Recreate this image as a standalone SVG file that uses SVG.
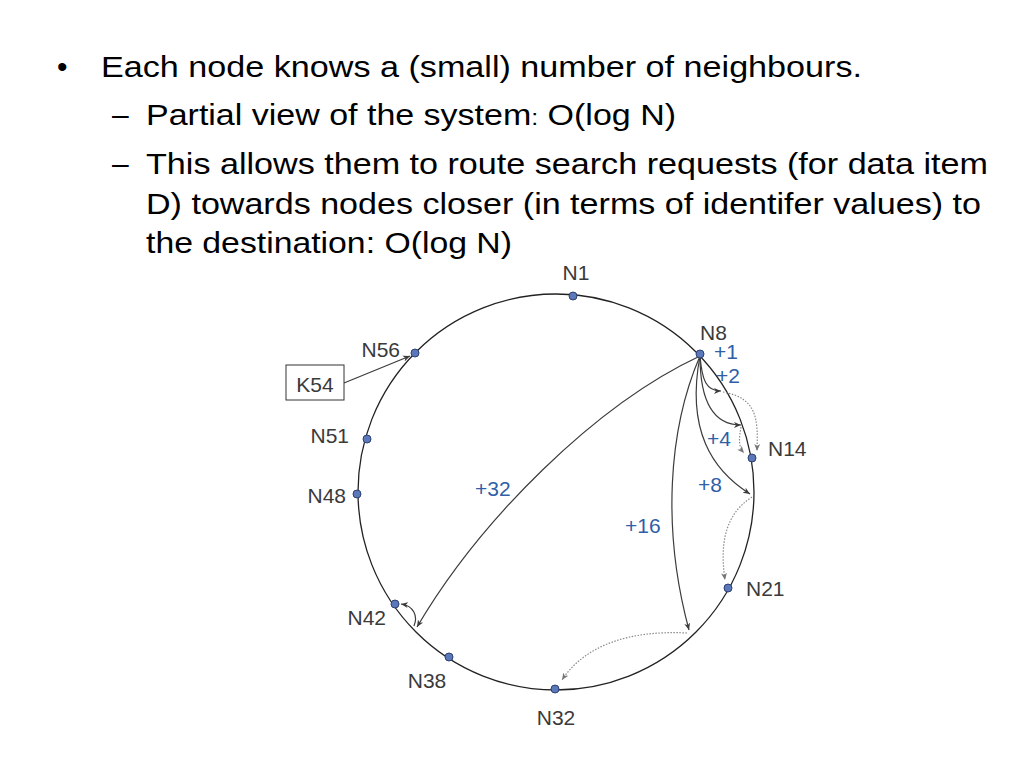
<svg xmlns="http://www.w3.org/2000/svg" width="1024" height="768" viewBox="0 0 1024 768">
<defs>
<style>
.body{font-family:"Liberation Sans",Arial,sans-serif;font-size:30px;fill:#000}
.lbl{font-family:"Liberation Sans",Arial,sans-serif;font-size:21px;fill:#3a3a3a}
.blue{font-family:"Liberation Sans",Arial,sans-serif;font-size:21px;fill:#2f5fa6}
.node{fill:#5b79b9;stroke:#2d3f73;stroke-width:1}
.solid{fill:none;stroke:#3c3c3c;stroke-width:1.2;marker-end:url(#ah)}
.dot{fill:none;stroke:#8a8a8a;stroke-width:1.2;stroke-dasharray:1.5 1.5;marker-end:url(#ahg)}
</style>
<marker id="ah" markerWidth="8" markerHeight="8" refX="7" refY="4" orient="auto" markerUnits="userSpaceOnUse">
<path d="M0,1 L7,4 L0,7 L2,4 Z" fill="#3c3c3c"/>
</marker>
<marker id="ahg" markerWidth="8" markerHeight="8" refX="7" refY="4" orient="auto" markerUnits="userSpaceOnUse">
<path d="M0,1 L7,4 L0,7 L2,4 Z" fill="#777"/>
</marker>
</defs>
<rect width="1024" height="768" fill="#fff"/>
<g id="text">
<text class="body" x="57" y="77">•</text>
<text class="body" x="101" y="77" textLength="761" lengthAdjust="spacingAndGlyphs">Each node knows a (small) number of neighbours.</text>
<text class="body" x="112" y="125">–</text>
<text class="body" x="146" y="125" textLength="530" lengthAdjust="spacingAndGlyphs">Partial view of the system<tspan font-size="22">:</tspan> O(log N)</text>
<text class="body" x="112" y="174">–</text>
<text class="body" x="146" y="174" textLength="842" lengthAdjust="spacingAndGlyphs">This allows them to route search requests (for data item</text>
<text class="body" x="146" y="214" textLength="835" lengthAdjust="spacingAndGlyphs">D) towards nodes closer (in terms of identifer values) to</text>
<text class="body" x="146" y="253" textLength="366" lengthAdjust="spacingAndGlyphs">the destination: O(log N)</text>
</g>
<g id="ring">
<circle cx="556" cy="492" r="198" fill="none" stroke="#222" stroke-width="1.3"/>
</g>
<g id="connectors">
<path class="solid" d="M344,383 L410,356"/>
<path class="solid" d="M700,356 C702,380 706,391 721,391"/>
<path class="solid" d="M700,356 C700,405 715,425 741,425"/>
<path class="solid" d="M700,356 C686,430 712,470 750,494"/>
<path class="solid" d="M700,356 C668,430 662,530 689,630"/>
<path class="solid" d="M700,356 C595,405 480,520 417,627"/>
<path class="solid" d="M414,626 C418,616 414,606 401,604"/>
<path class="dot" d="M723,392 C758,398 758,420 757,451"/>
<path class="dot" d="M741,427 C739,438 738,446 744,453"/>
<path class="dot" d="M752,497 C724,515 720,545 725,580"/>
<path class="dot" d="M687,633 C630,630 585,645 562,680"/>
</g>
<g id="k54">
<rect x="286" y="365" width="58" height="35" fill="#fff" stroke="#333" stroke-width="1"/>
<text class="lbl" x="315" y="392" text-anchor="middle">K54</text>
</g>
<g id="n1"><circle class="node" cx="573" cy="296" r="4"/><text class="lbl" x="576" y="280" text-anchor="middle">N1</text></g>
<g id="n8"><circle class="node" cx="700" cy="354" r="4"/><text class="lbl" x="700" y="340">N8</text></g>
<g id="n14"><circle class="node" cx="752" cy="458" r="4"/><text class="lbl" x="768" y="456">N14</text></g>
<g id="n21"><circle class="node" cx="728" cy="588" r="4"/><text class="lbl" x="746" y="596">N21</text></g>
<g id="n32"><circle class="node" cx="555" cy="689" r="4"/><text class="lbl" x="556" y="725" text-anchor="middle">N32</text></g>
<g id="n38"><circle class="node" cx="449" cy="657" r="4"/><text class="lbl" x="427" y="688" text-anchor="middle">N38</text></g>
<g id="n42"><circle class="node" cx="395" cy="604" r="4"/><text class="lbl" x="386" y="625" text-anchor="end">N42</text></g>
<g id="n48"><circle class="node" cx="357" cy="494" r="4"/><text class="lbl" x="346" y="503" text-anchor="end">N48</text></g>
<g id="n51"><circle class="node" cx="367" cy="439" r="4"/><text class="lbl" x="349" y="443" text-anchor="end">N51</text></g>
<g id="n56"><circle class="node" cx="415" cy="353" r="4"/><text class="lbl" x="400" y="357" text-anchor="end">N56</text></g>
<g id="labels">
<text class="blue" x="714" y="359" font-size="12">+1</text>
<text class="blue" x="716" y="383">+2</text>
<text class="blue" x="707" y="446">+4</text>
<text class="blue" x="698" y="492">+8</text>
<text class="blue" x="625" y="533">+16</text>
<text class="blue" x="475" y="496">+32</text>
</g>
</svg>
